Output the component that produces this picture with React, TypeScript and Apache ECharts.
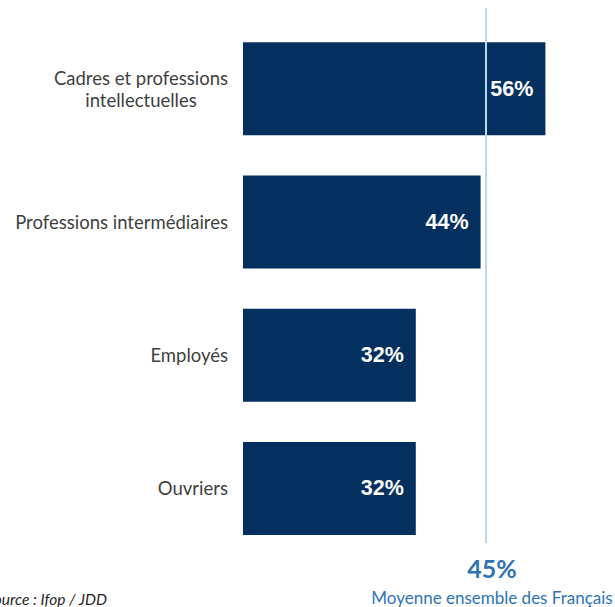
import React, { useEffect, useRef } from "react";
import * as echarts from "echarts";

const categories = [
  "Cadres et professions\nintellectuelles",
  "Professions intermédiaires",
  "Employés",
  "Ouvriers",
];
const values = [56, 44, 32, 32];
const averageValue = 45;
const averageLabel = "Moyenne ensemble des Français";
const sourceText = "Source : Ifop / JDD";

export default function App() {
  const ref = useRef<HTMLDivElement>(null);
  useEffect(() => {
    if (!ref.current) return;
    const chart = echarts.init(ref.current, null, { renderer: "svg" });
    chart.setOption({
      animation: false,
      backgroundColor: "#ffffff",
      grid: { left: 243, right: 48, top: 22, bottom: 52 },
      xAxis: {
        type: "value",
        min: 0,
        max: 60,
        show: false,
      },
      yAxis: {
        type: "category",
        data: categories,
        inverse: true,
        axisLine: { show: false },
        axisTick: { show: false },
        splitLine: { show: false },
        axisLabel: {
          margin: 15,
          formatter: (v: string) =>
            v
              .split("\n")
              .map((l) => `{c|${l}}`)
              .join("\n"),
          rich: {
            c: {
              align: "center",
              fontFamily: "Lato, 'Liberation Sans', sans-serif",
              fontSize: 18.5,
              color: "#3f3f3f",
              lineHeight: 22,
            },
          },
        },
      },
      series: [
        {
          type: "bar",
          data: values,
          barWidth: 93,
          itemStyle: { color: "#04305f" },
          label: {
            show: true,
            position: "insideRight",
            distance: 12,
            formatter: "{c}%",
            color: "#ffffff",
            fontFamily: "'Liberation Sans', Arial, sans-serif",
            fontWeight: "bold",
            fontSize: 21.5,
          },
          markLine: {
            silent: true,
            symbol: "none",
            lineStyle: { color: "#bdd7ee", width: 2, type: "solid" },
            label: {
              show: true,
              position: "end",
              distance: 10,
              offset: [6, 0],
              formatter: () => `{a|${averageValue}%}\n{b|${averageLabel}}`,
              rich: {
                a: {
                  fontFamily: "Lato, 'Liberation Sans', sans-serif",
                  fontWeight: "bold",
                  fontSize: 25,
                  color: "#2e74b5",
                  lineHeight: 30,
                  align: "center",
                },
                b: {
                  fontFamily: "Lato, 'Liberation Sans', sans-serif",
                  fontSize: 17,
                  color: "#2e74b5",
                  lineHeight: 28,
                  align: "center",
                },
              },
            },
            data: [
              [
                { xAxis: averageValue, y: 8 },
                { xAxis: averageValue, y: 543 },
              ],
            ],
          },
        },
      ],
      graphic: [
        {
          type: "text",
          left: -14,
          top: 591,
          style: {
            text: sourceText,
            fontFamily: "Lato, 'Liberation Sans', sans-serif",
            fontStyle: "italic",
            fontSize: 15.5,
            fill: "#262626",
          },
        },
      ],
    });
    return () => chart.dispose();
  }, []);
  return <div ref={ref} style={{ width: 615, height: 607, position: "fixed", left: 0, top: 0 }} />;
}
